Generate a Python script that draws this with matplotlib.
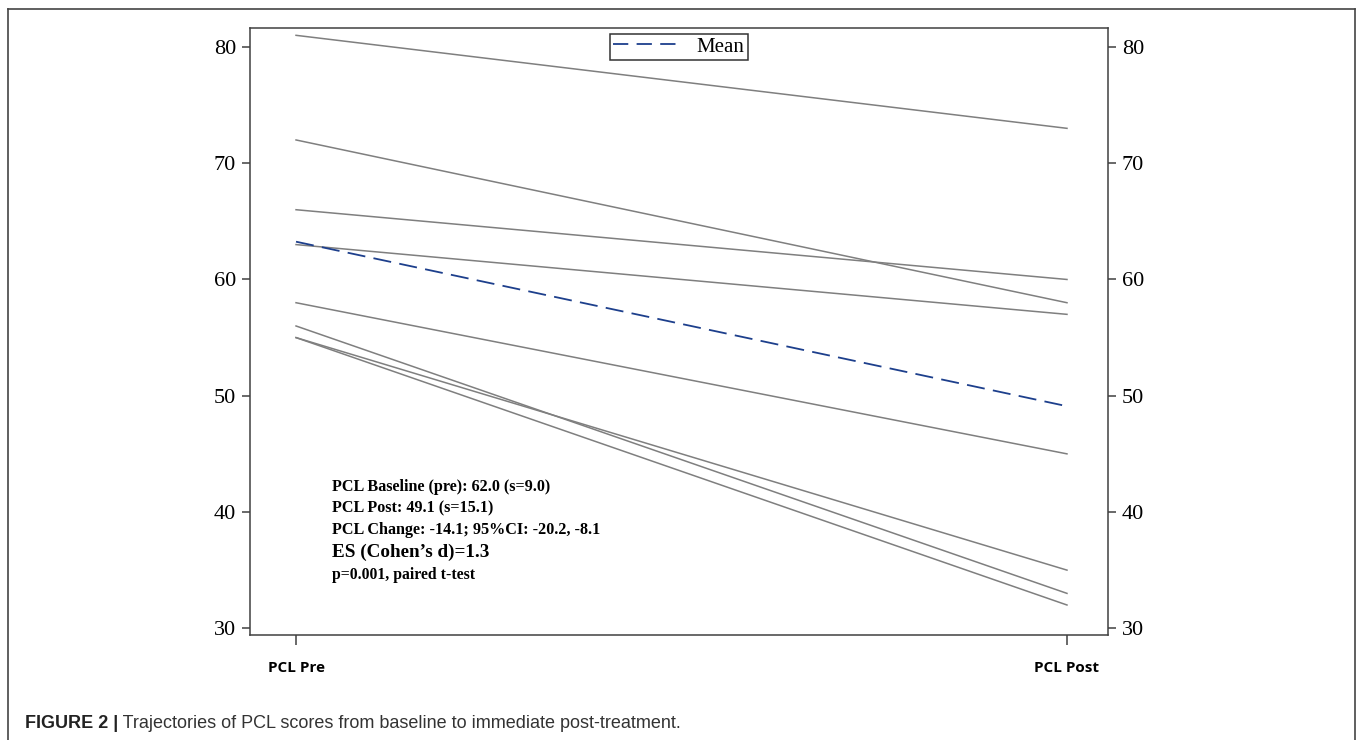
import matplotlib.pyplot as plt
from matplotlib.lines import Line2D

# ------------------------------------------------------------
# PCL scores, one line per participant (pre -> post)
# ------------------------------------------------------------
time_points = [1, 2]
time_labels = ["PCL Pre", "PCL Post"]
pcl_pre = [81, 72, 66, 63, 58, 56, 55, 55]
pcl_post = [73, 58, 60, 57, 45, 33, 35, 32]
mean_scores = [63.25, 49.1]

yticks = [30, 40, 50, 60, 70, 80]

stats_lines = [
    "PCL Baseline (pre): 62.0 (s=9.0)",
    "PCL Post: 49.1 (s=15.1)",
    "PCL Change: -14.1; 95%CI: -20.2, -8.1",
    "ES (Cohen\u2019s d)=1.3",
    "p=0.001, paired t-test",
]
stats_sizes = [11.6, 11.6, 11.6, 13.8, 11.3]

caption_bold = "FIGURE 2 |"
caption_text = " Trajectories of PCL scores from baseline to immediate post-treatment."

plt.rcParams["lines.scale_dashes"] = False
serif = ["Liberation Serif", "DejaVu Serif"]
cap_font = ["Liberation Sans Narrow", "Liberation Sans"]

fig = plt.figure(figsize=(13.57, 7.40), dpi=100)
ax = fig.add_axes([250 / 1357, 1 - 635 / 740, 858 / 1357, 607 / 740])

for a, b in zip(pcl_pre, pcl_post):
    ax.plot(time_points, [a, b], color="#7f7f7f", lw=1.1, zorder=2)

ax.plot(time_points, mean_scores, color="#1d3f8c", lw=1.3,
        dashes=(13, 6), label="Mean", zorder=3)

ax.set_xlim(0.9403, 2.0532)
ax.set_ylim(29.42, 81.63)
ax.set_xticks(time_points)
ax.set_xticklabels(time_labels, family=["Open Sans", "DejaVu Sans"],
                   fontweight="bold", fontsize=11)
ax.set_yticks(yticks)
ax.set_yticklabels([str(v) for v in yticks], family=serif, fontsize=16)

ax.tick_params(axis="y", direction="out", length=6, width=1.1,
               color="#404040", right=True, labelright=True, pad=4)
ax.tick_params(axis="x", direction="out", length=7, width=1.1,
               color="#404040", pad=12)
for s in ax.spines.values():
    s.set_color("#404040")
    s.set_linewidth(1.1)

leg = ax.legend(loc="upper center", bbox_to_anchor=(0.5, 0.997),
                prop={"family": serif, "size": 15}, frameon=True,
                fancybox=False, handlelength=3.1, handletextpad=0.9,
                borderpad=0.15, borderaxespad=0.2)
leg.get_frame().set_edgecolor("black")
leg.get_frame().set_linewidth(1.1)
leg.get_lines()[0].set_dashes((11, 6))

# stats text block
ys = [0.2438, 0.2092, 0.1730, 0.1367, 0.0988]
for txt, y, fs in zip(stats_lines, ys, stats_sizes):
    ax.text(0.0956, y, txt, transform=ax.transAxes, family=serif,
            fontweight="bold", fontsize=fs, va="center", ha="left")

# outer frame of the figure panel
frame_kw = dict(color="#444444", lw=1.2, transform=fig.transFigure)
fig.add_artist(Line2D([8 / 1357, 8 / 1357], [0, 1 - 9 / 740], **frame_kw))
fig.add_artist(Line2D([8 / 1357, 1355 / 1357], [1 - 9 / 740, 1 - 9 / 740], **frame_kw))
fig.add_artist(Line2D([1355 / 1357, 1355 / 1357], [0, 1 - 9 / 740], **frame_kw))

# caption
cap = fig.text(25 / 1357, 1 - 724 / 740, caption_bold, family=cap_font,
               fontweight="bold", fontsize=13, va="center", ha="left",
               color="#222222")
fig.canvas.draw()
bb = cap.get_window_extent()
fig.text(bb.x1 / 1357, 1 - 724 / 740, caption_text, family=cap_font,
         fontsize=13, va="center", ha="left", color="#333333")

fig.savefig("out.png", dpi=100)
